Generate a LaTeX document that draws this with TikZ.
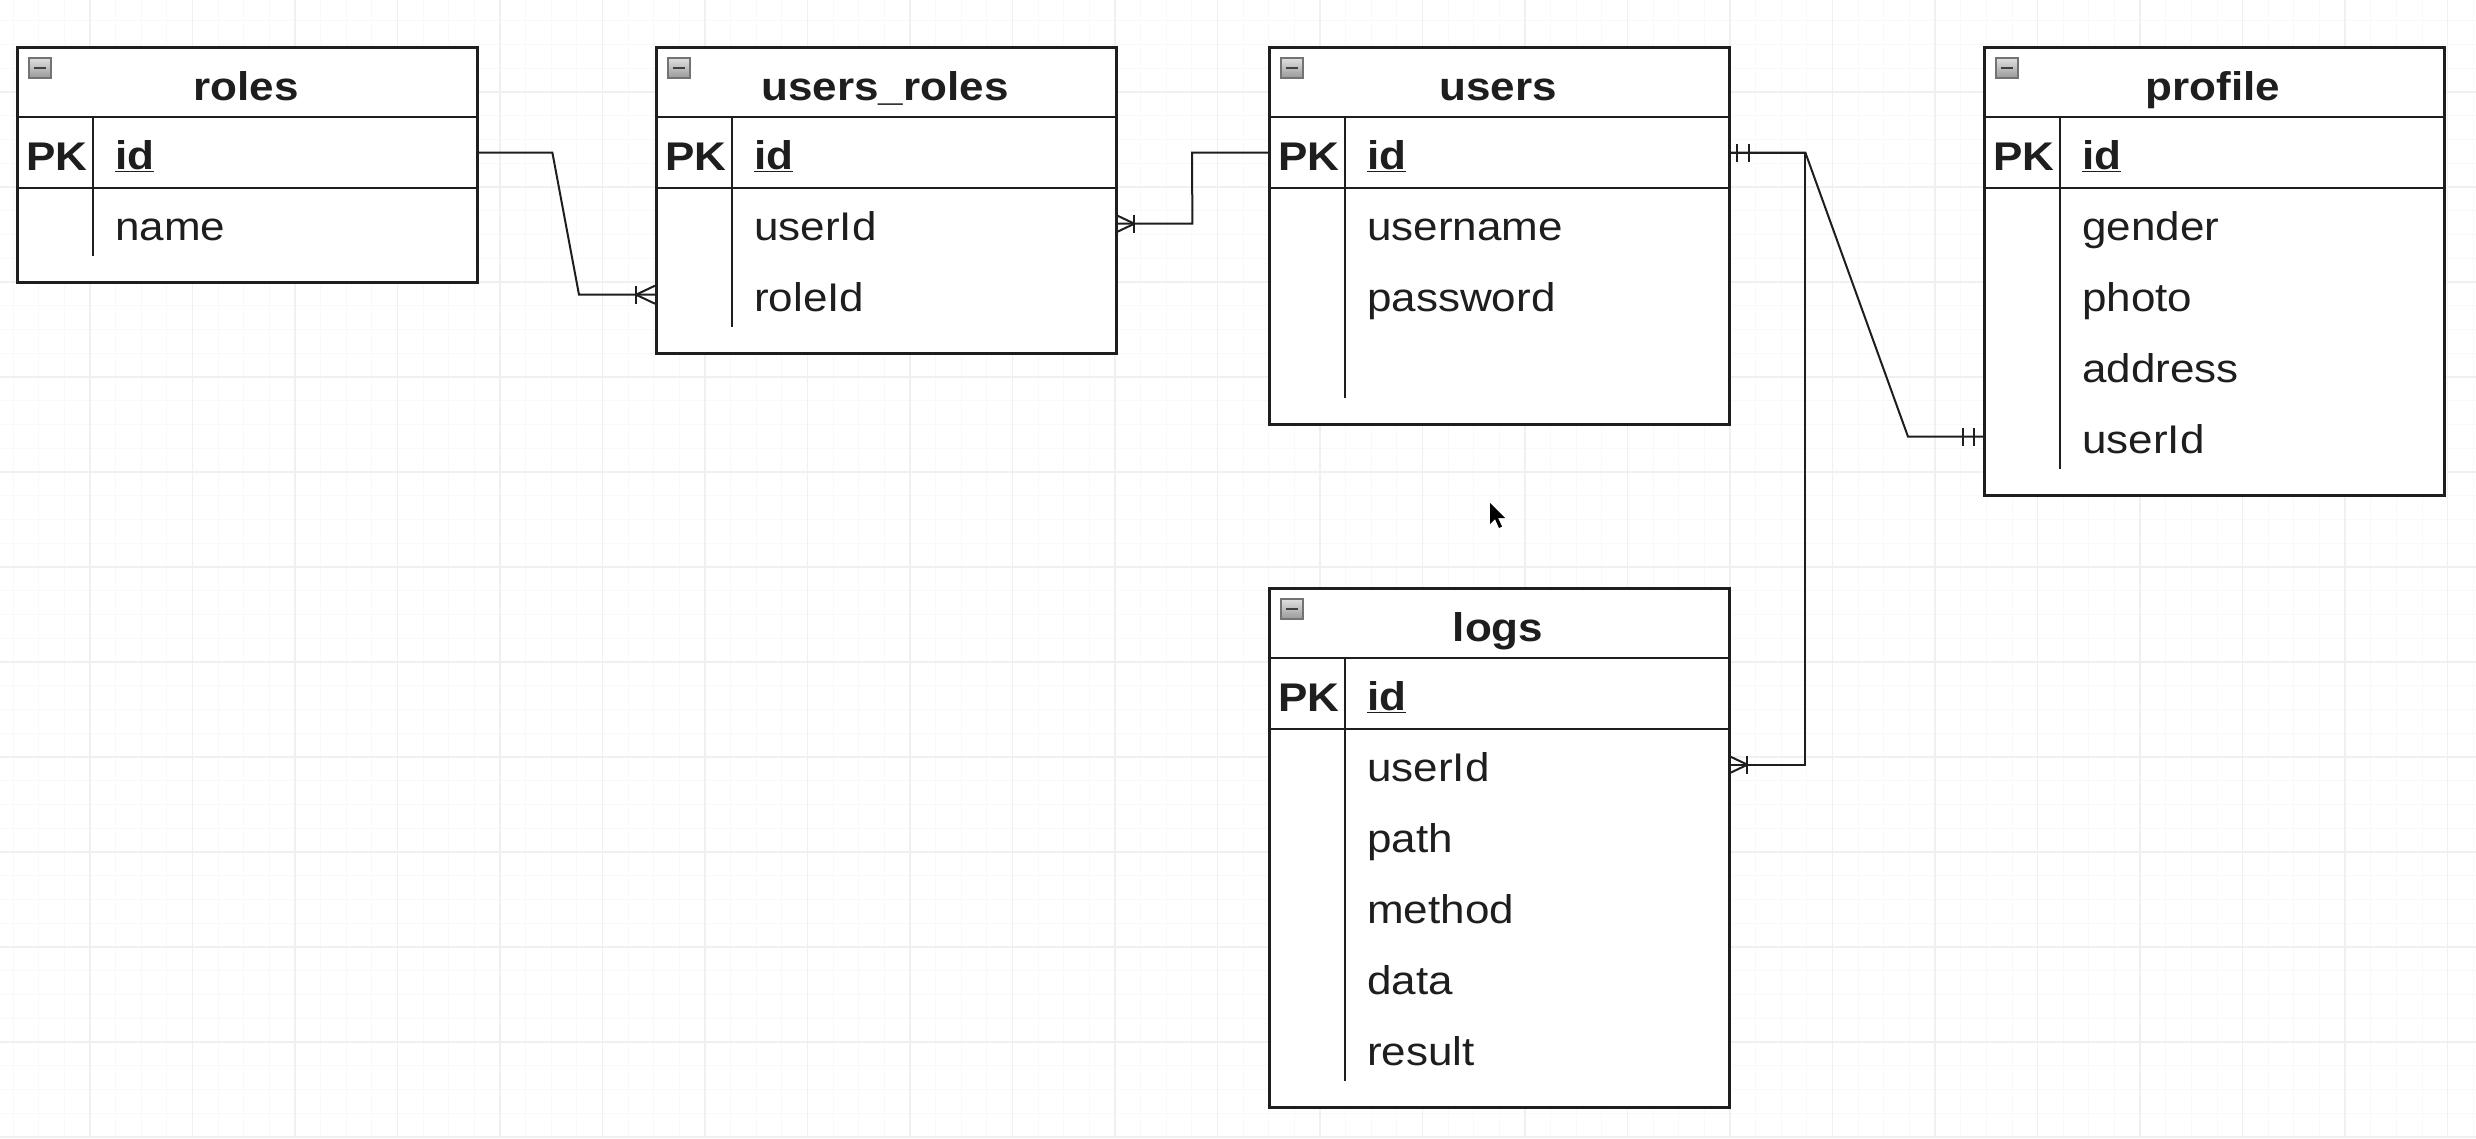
\documentclass[tikz,border=0pt]{standalone}
\usepackage{fontspec}
\setmainfont{Liberation Sans}[FakeStretch=1.1]
\usetikzlibrary{calc}
\definecolor{ink}{HTML}{1E1E1E}
\tikzset{
  x=1pt, y=-1pt,
  gridmajor/.style={draw=black!6, line width=1.2pt},
  gridminor/.style={draw=black!2.5, line width=0.8pt},
  tblframe/.style={draw=ink, line width=2.6pt, minimum width=460pt, inner sep=0pt, anchor=north west, fill=white},
  innerline/.style={draw=ink, line width=2.2pt},
  rowbox/.style={minimum width=460pt, minimum height=71pt, inner sep=0pt, anchor=north west},
  ttl/.style={font=\fontsize{40}{48}\selectfont\bfseries, anchor=base, inner sep=0pt, text=ink},
  pktxt/.style={font=\fontsize{40}{48}\selectfont\bfseries, anchor=base west, inner sep=0pt, text=ink},
  fldtxt/.style={font=\fontsize{40}{48}\selectfont, anchor=base west, inner sep=0pt, text=ink},
  icon/.style={draw=black!55, line width=1.2pt, top color=black!12, bottom color=black!40},
  conn/.style={draw=ink, line width=2pt},
}
\newcommand\ertable[5]{%
  \begin{scope}[shift={#2}]
    \node[tblframe, minimum height=#5pt] (#1) at (0,0) {};
    \draw[innerline] (0,71) -- (460,71);
    \draw[innerline] (0,142) -- (460,142);
    \draw[innerline] (77,71) -- (77,{#5-25});
    \draw[icon] (13,12) rectangle (35,32);
    \draw[line width=1.6pt, ink!85] (18,22) -- (30,22);
    \node[ttl] (#1-title) at (230,54) {#3};
    \node[rowbox] (#1-r0) at (0,71) {};
    \node[pktxt] (#1-pk) at (10,124) {PK};
    \node[fldtxt] (#1-id) at (99,123) {\underline{\textbf{id}}};
    \foreach \f [count=\i] in {#4} {
      \node[rowbox] (#1-r\i) at (0,{71+71*\i}) {};
      \node[fldtxt] (#1-f\i) at (99,{123+71*\i}) {\f};
    }
  \end{scope}
}
\newcommand\manyW[1]{%
  \draw[conn] ([xshift=-19pt]#1) -- ([yshift=9pt]#1) ([xshift=-19pt]#1) -- ([yshift=-9pt]#1);
  \draw[conn] ([xshift=-19pt,yshift=9pt]#1) -- ([xshift=-19pt,yshift=-9pt]#1);
}
\newcommand\manyE[1]{%
  \draw[conn] ([xshift=19pt]#1) -- ([yshift=9pt]#1) ([xshift=19pt]#1) -- ([yshift=-9pt]#1);
  \draw[conn] ([xshift=19pt,yshift=9pt]#1) -- ([xshift=19pt,yshift=-9pt]#1);
}
\newcommand\oneE[1]{%
  \draw[conn] ([xshift=9pt,yshift=9pt]#1) -- ([xshift=9pt,yshift=-9pt]#1);
  \draw[conn] ([xshift=21pt,yshift=9pt]#1) -- ([xshift=21pt,yshift=-9pt]#1);
}
\newcommand\oneW[1]{%
  \draw[conn] ([xshift=-9pt,yshift=9pt]#1) -- ([xshift=-9pt,yshift=-9pt]#1);
  \draw[conn] ([xshift=-20pt,yshift=9pt]#1) -- ([xshift=-20pt,yshift=-9pt]#1);
}
\begin{document}
\begin{tikzpicture}
  \useasboundingbox (0,0) rectangle (2476,1138);
  \fill[white] (0,0) rectangle (2476,1138);
  % background grid
  \foreach \k in {0,...,97} \draw[gridminor] ({-12.5+25.625*\k},0) -- ++(0,1138);
  \foreach \k in {0,...,48} \draw[gridminor] (0,{-3+23.75*\k}) -- ++(2476,0);
  \foreach \k in {1,...,24} \draw[gridmajor] ({-12.5+102.5*\k},0) -- ++(0,1138);
  \foreach \k in {1,...,12} \draw[gridmajor] (0,{-3+95*\k}) -- ++(2476,0);

  % tables
  \ertable{roles}{(16,46)}{roles}{name}{235}
  \ertable{ur}{(655,46)}{users\_roles}{userId,roleId}{306}
  \ertable{users}{(1268,46)}{users}{username,password}{377}
  \ertable{profile}{(1983,46)}{profile}{gender,photo,address,userId}{448}
  \ertable{logs}{(1268,587)}{logs}{userId,path,method,data,result}{519}

  % connectors
  \draw[conn] (roles-r0.east) -- ++(76,0) -- ([xshift=-76pt]ur-r2.west) -- (ur-r2.west);
  \manyW{ur-r2.west}
  \draw[conn] (ur-r1.east) -- ++(77,0) -- ([xshift=-76pt]users-r0.west) -- (users-r0.west);
  \manyE{ur-r1.east}
  \draw[conn] (users-r0.east) -- ++(77,0) -- ([xshift=-75pt]profile-r4.west) -- (profile-r4.west);
  \oneE{users-r0.east}
  \oneW{profile-r4.west}
  \draw[conn] (users-r0.east) -- ++(77,0) |- (logs-r1.east);
  \manyE{logs-r1.east}

  % mouse pointer
  \fill[black] (1490,503) -- ++(0,21) -- ++(5,-5) -- ++(4,9) -- ++(3,-1.5) -- ++(-4,-8.5) -- ++(7,0) -- cycle;
\end{tikzpicture}
\end{document}
